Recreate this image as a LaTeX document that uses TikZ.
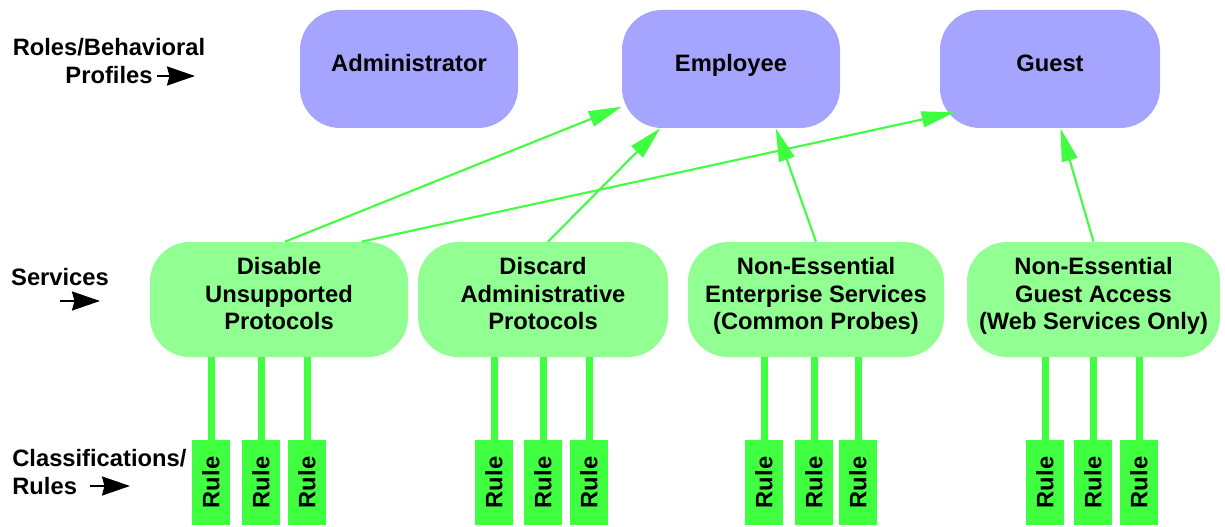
\documentclass[tikz,border=0pt]{standalone}
\usepackage{fontspec}
\setmainfont{Liberation Sans}
\usepackage{tikz}
\usetikzlibrary{arrows.meta}
\definecolor{rolefill}{RGB}{165,165,255}
\definecolor{svcfill}{RGB}{145,255,145}
\definecolor{rulefill}{RGB}{64,255,64}
\newcommand{\ruletext}{\rotatebox{90}{Rule}}

\begin{document}
\begin{tikzpicture}[font=\fontsize{13.5}{15.8}\selectfont\bfseries,
    lbl/.style={inner sep=0pt},
    rnode/.style={fill=rolefill,rounded corners=0.8cm,minimum width=4.36cm,minimum height=2.36cm,text height=0.35cm,text depth=0.25cm},
    snode/.style={fill=svcfill,rounded corners=0.8cm,minimum height=2.3cm,align=center,text depth=0.24cm},
    qnode/.style={fill=rulefill,minimum width=0.76cm,minimum height=1.7cm,inner sep=0pt},
    link/.style={draw=rulefill,line width=1.2pt,-{Triangle[length=6.6mm,width=3.2mm]}},
    stem/.style={draw=rulefill,line width=1.4mm},
    pointer/.style={line width=1.1pt,-{Stealth[length=5.6mm,width=3.8mm,inset=0.5mm]}}]
    \useasboundingbox (0,0) rectangle (24.5,-10.54);

    % layer labels
    \node[lbl,align=center] (roles) at (2.18,-1.22) {Roles/Behavioral\\Profiles};
    \node[lbl] (svcs) at (1.2,-5.54) {Services};
    \node[lbl,align=left,anchor=west] (cls) at (0.24,-9.44) {Classifications/\\Rules};
    \coordinate (p1) at (3.14,-1.52);
    \coordinate (p2) at (1.2,-6.02);
    \coordinate (p3) at (1.8,-9.72);
    \draw[pointer] (p1) -- ++(0.76,0);
    \draw[pointer] (p2) -- ++(0.8,0);
    \draw[pointer] (p3) -- ++(0.8,0);

    % roles
    \node[rnode] (admin) at (8.18,-1.38) {Administrator};
    \node[rnode] (empl) at (14.62,-1.38) {Employee};
    \node[rnode,minimum width=4.4cm] (guest) at (21.0,-1.38) {Guest};

    % services
    \node[snode,minimum width=5.16cm] (s1) at (5.58,-5.99) {Disable\\Unsupported\\Protocols};
    \node[snode,minimum width=5.0cm] (s2) at (10.86,-5.99) {Discard\\Administrative\\Protocols};
    \node[snode,minimum width=5.12cm] (s3) at (16.32,-5.99) {Non-Essential\\Enterprise Services\\(Common Probes)};
    \node[snode,minimum width=5.06cm] (s4) at (21.87,-5.99) {Non-Essential\\Guest Access\\(Web Services Only)};

    % rules
    \node[qnode] (r1) at (4.22,-9.65) {\ruletext};
    \node[qnode] (r2) at (5.22,-9.65) {\ruletext};
    \node[qnode] (r3) at (6.14,-9.65) {\ruletext};
    \node[qnode] (r4) at (9.88,-9.65) {\ruletext};
    \node[qnode] (r5) at (10.86,-9.65) {\ruletext};
    \node[qnode] (r6) at (11.78,-9.65) {\ruletext};
    \node[qnode] (r7) at (15.28,-9.65) {\ruletext};
    \node[qnode] (r8) at (16.28,-9.65) {\ruletext};
    \node[qnode] (r9) at (17.16,-9.65) {\ruletext};
    \node[qnode] (r10) at (20.9,-9.65) {\ruletext};
    \node[qnode] (r11) at (21.86,-9.65) {\ruletext};
    \node[qnode] (r12) at (22.78,-9.65) {\ruletext};

    \draw[stem] (r1.north) -- (r1.north |- s1.south);
    \draw[stem] (r2.north) -- (r2.north |- s1.south);
    \draw[stem] (r3.north) -- (r3.north |- s1.south);
    \draw[stem] (r4.north) -- (r4.north |- s2.south);
    \draw[stem] (r5.north) -- (r5.north |- s2.south);
    \draw[stem] (r6.north) -- (r6.north |- s2.south);
    \draw[stem] (r7.north) -- (r7.north |- s3.south);
    \draw[stem] (r8.north) -- (r8.north |- s3.south);
    \draw[stem] (r9.north) -- (r9.north |- s3.south);
    \draw[stem] (r10.north) -- (r10.north |- s4.south);
    \draw[stem] (r11.north) -- (r11.north |- s4.south);
    \draw[stem] (r12.north) -- (r12.north |- s4.south);

    % services to roles
    \draw[link] (s1.84) -- (empl.-161);
    \draw[link] (s2.85) -- (empl.-140);
    \draw[link] (s1.35) -- ([shift={(0.3,0.32)}]guest.south west);
    \draw[link] (s3.north) -- (empl.-53);
    \draw[link] (s4.north) -- (guest.-80);
\end{tikzpicture}
\end{document}
